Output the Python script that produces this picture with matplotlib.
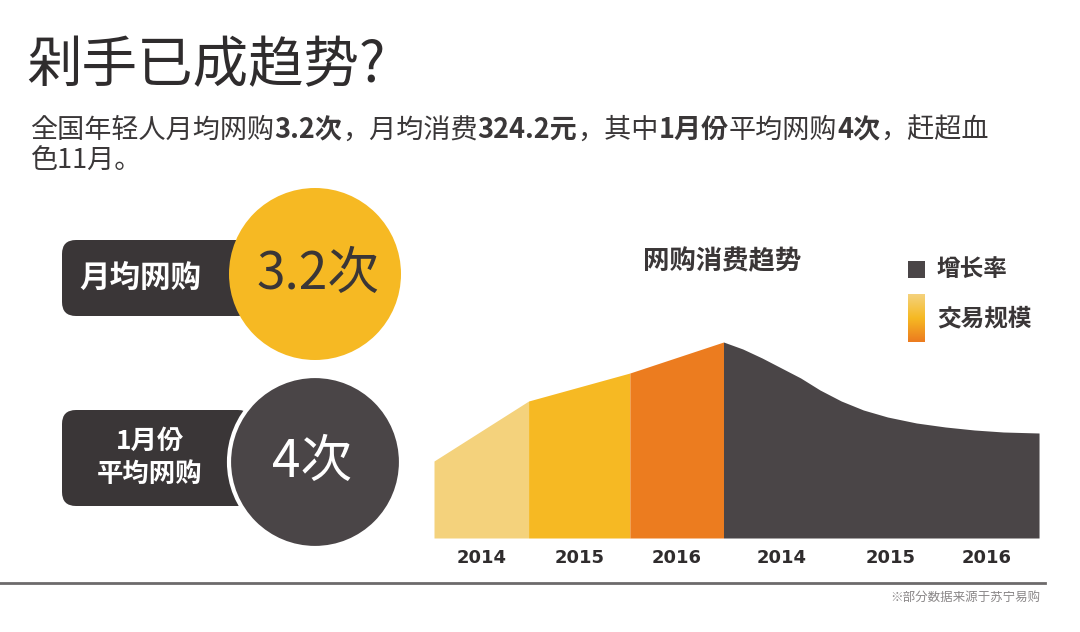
import matplotlib
matplotlib.use("Agg")
import matplotlib.pyplot as plt
from matplotlib import font_manager as fm
from matplotlib.patches import FancyBboxPatch, Circle, Rectangle
import numpy as np

cjk = sorted(set(f.name for f in fm.fontManager.ttflist if "CJK" in f.name))
cjk_name = next((n for n in cjk if "Sans" in n and "SC" in n),
                next((n for n in cjk if "Sans" in n), "DejaVu Sans"))
plt.rcParams["font.family"] = [cjk_name, "DejaVu Sans"]

# ---- data ----
years = ["2014", "2015", "2016"]
trade_x = [0.0, 0.98, 2.03, 3.0]          # segment edges
trade_h = [77, 137, 165, 196]             # 交易规模 (relative height)
growth_x = [3.0, 3.2, 3.4, 3.6, 3.8, 4.0, 4.22, 4.45, 4.7, 5.0, 5.3, 5.6, 5.9, 6.27]
growth_h = [196, 189, 180, 170, 160, 148, 137, 128, 121, 115, 111, 108, 106, 105]  # 增长率
trade_colors = ["#F4D27C", "#F6B923", "#EC7C1F"]
dark = "#4A4547"

W, H = 1080, 632
fig = plt.figure(figsize=(W / 100, H / 100), dpi=100)
bg = fig.add_axes([0, 0, 1, 1])
bg.set_xlim(0, W)
bg.set_ylim(H, 0)
bg.axis("off")

# title + subtitle
bg.text(26, 66, "剁手已成趋势?", fontsize=40, color="#2f2c2d", va="center")


def run(x, y, parts, size=19.5):
    r = fig.canvas.get_renderer()
    for txt, bold in parts:
        t = bg.text(x, y, txt, fontsize=size, color="#3a3738", va="center",
                    fontweight="bold" if bold else "normal")
        bb = t.get_window_extent(renderer=r)
        x += bb.width


run(30, 130, [("全国年轻人月均网购", False), ("3.2次", True), ("，月均消费", False),
              ("324.2元", True), ("，其中", False), ("1月份", True),
              ("平均网购", False), ("4次", True), ("，赶超血", False)])
run(30, 161, [("色11月。", False)])

# pills + circles
bg.add_patch(FancyBboxPatch((62, 240), 190, 76, boxstyle="round,pad=0,rounding_size=14",
                            fc="#3a3637", ec="none"))
bg.text(140, 278, "月均网购", fontsize=22, fontweight="bold", color="white",
        ha="center", va="center")
bg.add_patch(Circle((315, 274), 86, fc="#F6B923", ec="none"))
bg.text(318, 274, "3.2次", fontsize=37, color="#3a3637", ha="center", va="center")

bg.add_patch(FancyBboxPatch((62, 410), 190, 96, boxstyle="round,pad=0,rounding_size=14",
                            fc="#3a3637", ec="none"))
bg.text(150, 458, "1月份\n平均网购", fontsize=19, fontweight="bold", color="white",
        ha="center", va="center", linespacing=1.3)
bg.add_patch(Circle((315, 462), 86, fc=dark, ec="white", lw=3))
bg.text(312, 462, "4次", fontsize=37, color="white", ha="center", va="center")

# chart title + legend
bg.text(722, 262, "网购消费趋势", fontsize=19, fontweight="bold", color="#3a3637",
        ha="center", va="center")
bg.add_patch(Rectangle((908, 261), 17, 17, fc=dark, ec="none"))
bg.text(937, 269, "增长率", fontsize=17, fontweight="bold", color="#3a3637", va="center")
grad = np.linspace(0, 1, 50).reshape(-1, 1)
cmap = matplotlib.colors.LinearSegmentedColormap.from_list("g", trade_colors)
bg.imshow(grad, cmap=cmap, extent=(908, 925, 342, 294), aspect="auto")
bg.text(937, 318, "交易规模", fontsize=17, fontweight="bold", color="#3a3637", va="center")

# area chart
ax = fig.add_axes([434 / W, 1 - 538 / H, (1040 - 434) / W, 200 / H])
ax.set_xlim(0, 6.28)
ax.set_ylim(0, 200)
ax.axis("off")
for i, c in enumerate(trade_colors):
    xs = [trade_x[i], trade_x[i + 1]]
    ax.fill_between(xs, 0, [trade_h[i], trade_h[i + 1]], color=c, lw=0)
ax.fill_between(growth_x, 0, growth_h, color=dark, lw=0)

lab_x = [(trade_x[i] + trade_x[i + 1]) / 2 for i in range(3)] + [3.6, 4.73, 5.73]
for xv, lab in zip(lab_x, years + years):
    ax.text(xv, -20, lab, fontsize=13, fontweight="bold", color="#2f2c2d",
            ha="center", va="center", clip_on=False, family="DejaVu Sans")

bg.plot([0, 1045], [583, 583], color="#6d6a6b", lw=2)
bg.text(1040, 597, "※部分数据来源于苏宁易购", fontsize=9, color="#8a8788",
        ha="right", va="center")

fig.savefig("out.png", dpi=100, facecolor="white")
